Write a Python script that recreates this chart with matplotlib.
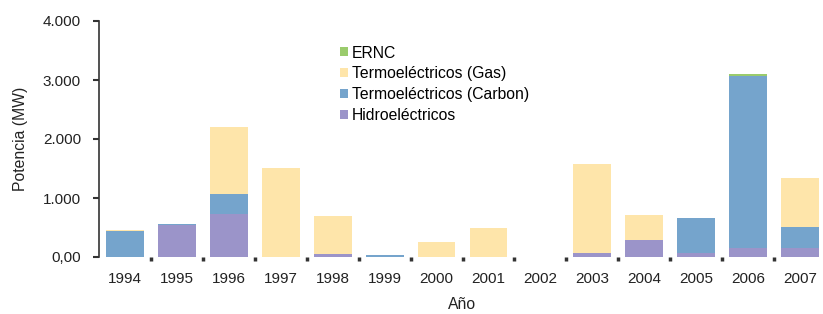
import numpy as np
import matplotlib
matplotlib.use('Agg')
import matplotlib.pyplot as plt
from matplotlib.ticker import FixedLocator

plt.rcParams['font.family'] = ['Liberation Sans', 'DejaVu Sans']

years = ['1994', '1995', '1996', '1997', '1998', '1999', '2000',
         '2001', '2002', '2003', '2004', '2005', '2006', '2007']
hidro = [0, 535, 735, 0, 55, 0, 0, 0, 0, 70, 295, 65, 160, 160]
carbon = [440, 30, 340, 0, 0, 35, 0, 0, 0, 0, 0, 595, 2915, 350]
gas = [25, 0, 1120, 1510, 640, 0, 260, 490, 0, 1510, 420, 0, 0, 830]
ernc = [0, 0, 0, 0, 0, 0, 0, 0, 0, 0, 0, 0, 35, 0]

series = [('Hidroeléctricos', hidro, '#9b94c9'),
          ('Termoeléctricos (Carbon)', carbon, '#75a4cc'),
          ('Termoeléctricos (Gas)', gas, '#fee5aa'),
          ('ERNC', ernc, '#9acb6c')]

W, H = 823, 314
fig = plt.figure(figsize=(W/100, H/100), dpi=100)
ax = fig.add_axes([99/W, 57/H, 727/W, 236/H])

x = np.arange(len(years))
bottom = np.zeros(len(years))
handles = []
for name, vals, col in series:
    vals = np.array(vals, dtype=float)
    b = ax.bar(x, vals, width=0.73, bottom=bottom, color=col, label=name, linewidth=0)
    handles.append(b)
    bottom += vals

ax.set_xlim(-0.5, len(years) - 0.5)
ax.set_ylim(0, 4000)

for s in ['top', 'right', 'bottom']:
    ax.spines[s].set_visible(False)
ax.spines['left'].set_color('#333333')
ax.spines['left'].set_linewidth(1.2)

ax.set_yticks([0, 1000, 2000, 3000, 4000])
ax.set_yticklabels(['0,00', '1.000', '2.000', '3.000', '4.000'], fontsize=11, color='#222222')
ax.tick_params(axis='y', length=4, width=1.5, color='#333333', pad=9)

ax.set_xticks(x)
ax.set_xticklabels(years, fontsize=11, color='#222222')
ax.tick_params(axis='x', which='major', length=0, pad=11)
ax.xaxis.set_minor_locator(FixedLocator(np.arange(0.5, len(years) - 1, 1.0)))
ax.tick_params(axis='x', which='minor', length=3, width=2.5, color='#333333')

ax.set_ylabel('Potencia (MW)', fontsize=11.3, color='#222222')
ax.yaxis.set_label_coords((28 - 99)/727, 0.5)
ax.set_xlabel('Año', fontsize=11.3, color='#222222')
ax.xaxis.set_label_coords(0.5, (257 - 297)/236)

leg = ax.legend(handles[::-1], [s[0] for s in series][::-1], loc='upper left',
                bbox_to_anchor=(340/W, 1 - 45.5/H), bbox_transform=fig.transFigure,
                frameon=False, fontsize=11.3, handlelength=0.5, handleheight=0.5,
                handletextpad=0.28, labelspacing=0.38, borderaxespad=0, borderpad=0)

fig.savefig('out.png', dpi=100)
